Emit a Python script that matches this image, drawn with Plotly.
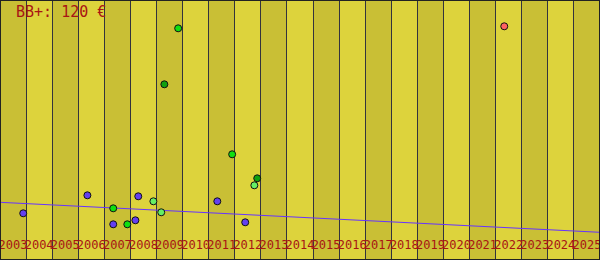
import plotly.graph_objects as go

# ---- data ----
years = list(range(2003, 2026))
year_labels = [str(y) for y in years]

blue_x = [2003.39, 2005.85, 2006.84, 2007.69, 2007.80, 2010.83, 2011.90]
blue_y = [46.7, 64.7, 35.7, 39.7, 63.7, 58.7, 37.7]

green_x = [2006.84, 2007.38, 2009.33, 2011.40]
green_y = [51.7, 35.7, 231.7, 105.7]

lightgreen_x = [2008.38, 2008.68, 2012.25]
lightgreen_y = [58.7, 47.7, 74.7]

darkgreen_x = [2008.80, 2012.36]
darkgreen_y = [175.7, 81.7]

red_x = [2021.83]
red_y = [233.7]

trend_x = [2002.5, 2025.5]
trend_y = [57.7, 27.7]

title_text = "BB+: 120 €"

# ---- styles ----
STRIPE_DARK = "#c9bf35"
STRIPE_LIGHT = "#ddd33c"
GRID = "#33333d"
LABEL = "#a81414"
MONO = "DejaVu Sans Mono"

fig = go.Figure()

fig.add_trace(go.Scatter(x=trend_x, y=trend_y, mode="lines",
                         line=dict(color="#6633ff", width=1), hoverinfo="skip"))

def pts(x, y, color):
    fig.add_trace(go.Scatter(x=x, y=y, mode="markers",
                             marker=dict(size=7, color=color,
                                         line=dict(color="#111111", width=1))))

pts(blue_x, blue_y, "#6440f0")
pts(green_x, green_y, "#10e010")
pts(lightgreen_x, lightgreen_y, "#66ee66")
pts(darkgreen_x, darkgreen_y, "#10a010")
pts(red_x, red_y, "#ff6262")

shapes = []
for i, y in enumerate(years):
    shapes.append(dict(type="rect", xref="x", yref="paper",
                       x0=y - 0.5, x1=y + 0.5, y0=0, y1=1,
                       fillcolor=STRIPE_DARK if i % 2 == 0 else STRIPE_LIGHT,
                       line=dict(width=0), layer="below"))
shapes.append(dict(type="rect", xref="paper", yref="paper", x0=0, x1=1, y0=0, y1=1,
                   line=dict(color="#222222", width=2), fillcolor="rgba(0,0,0,0)",
                   layer="above"))

fig.update_layout(
    width=600, height=260,
    margin=dict(l=0, r=0, t=0, b=0, autoexpand=False),
    paper_bgcolor=STRIPE_LIGHT, plot_bgcolor=STRIPE_LIGHT,
    showlegend=False,
    shapes=shapes,
    xaxis=dict(range=[years[0] - 0.5, years[-1] + 0.5],
               tickvals=years, ticktext=year_labels, automargin=False,
               ticklabelposition="inside", ticks="", tickangle=0,
               ticklabeloverflow="allow", ticklabelstandoff=6,
               tickfont=dict(family=MONO, size=12, color=LABEL),
               showgrid=False, zeroline=False, showline=False,
               minor=dict(tick0=years[0] - 0.5, dtick=1, showgrid=True,
                          gridcolor=GRID, gridwidth=1, ticks="")),
    yaxis=dict(range=[0, 260], visible=False, fixedrange=True, automargin=False),
    annotations=[dict(text=title_text, xref="paper", yref="paper",
                      x=0, y=1, xanchor="left", yanchor="top",
                      xshift=14, yshift=-1, showarrow=False,
                      font=dict(family=MONO, size=15, color=LABEL))],
)

fig.write_html("out.html")
